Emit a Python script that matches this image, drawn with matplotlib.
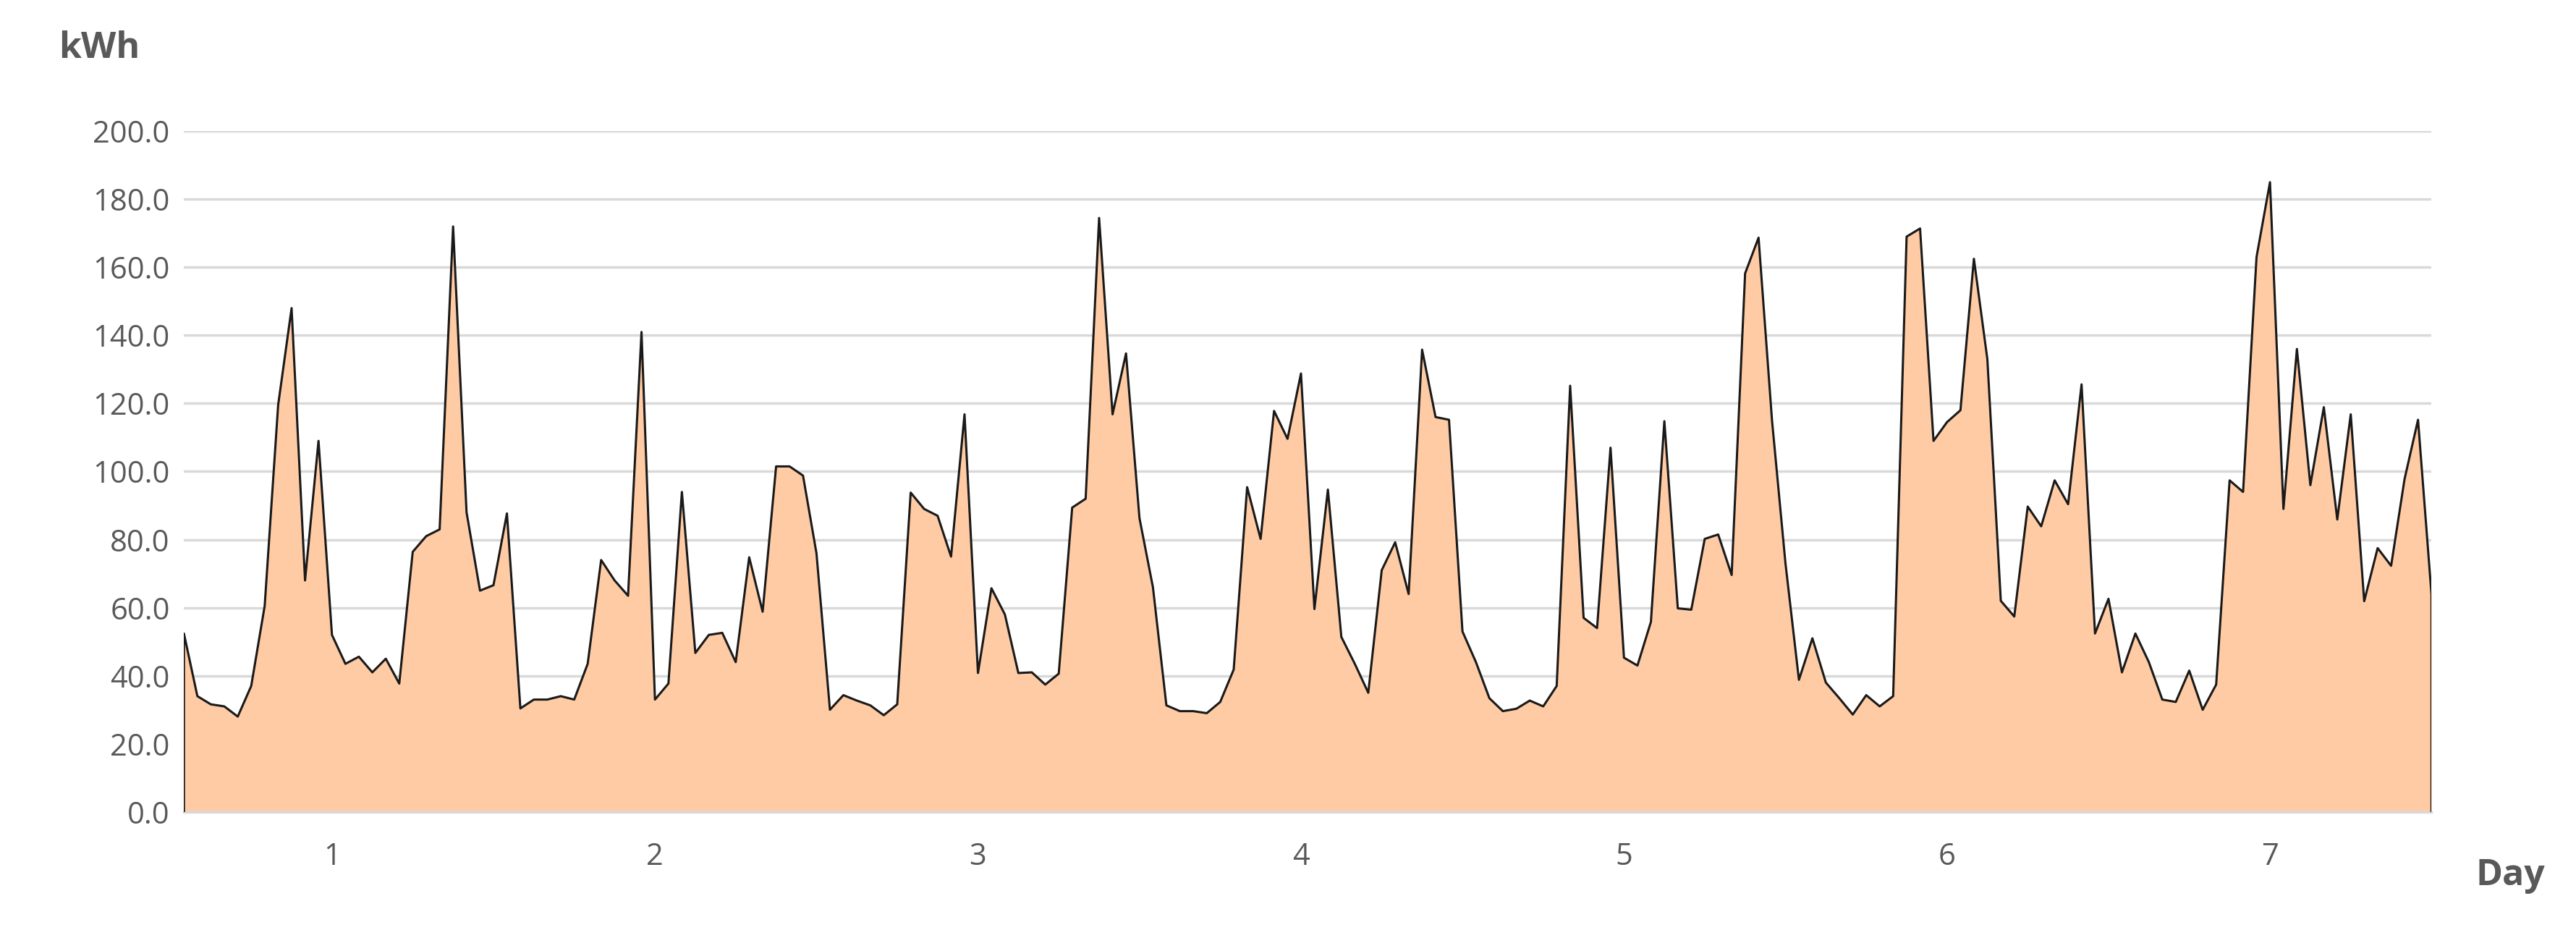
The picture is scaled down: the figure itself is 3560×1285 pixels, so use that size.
import matplotlib
matplotlib.use("Agg")
import matplotlib.pyplot as plt
import numpy as np

day_labels = ["1", "2", "3", "4", "5", "6", "7"]
energy_kwh = [
    52.4, 34, 31.6, 31, 28, 37, 60.5, 119.5, 148, 68, 109, 52, 43.5, 45.6, 41, 45, 37.7, 76.4, 81, 83, 172, 88, 65, 66.6,
    87.7, 30.4, 33, 33, 34, 33, 43.5, 74, 68, 63.5, 141, 33, 37.7, 94, 46.7, 52, 52.6, 44, 74.8, 58.8, 101.5, 101.5, 98.8, 76,
    30, 34.3, 32.7, 31.3, 28.4, 31.6, 93.8, 89, 87, 75, 116.8, 40.8, 65.7, 58, 40.8, 41, 37.4, 40.6, 89.4, 92, 174.5, 116.8, 134.7, 86.3,
    66, 31.3, 29.6, 29.6, 29, 32.3, 41.8, 95.4, 80.2, 117.8, 109.6, 128.8, 59.6, 94.7, 51.4, 43.5, 35, 71, 79.2, 64, 135.8, 116, 115.2, 53,
    44, 33.4, 29.6, 30.3, 32.7, 31, 37, 125.2, 57, 54, 107, 45.3, 43, 55.8, 114.8, 59.8, 59.4, 80.2, 81.5, 69.6, 158.2, 168.7, 115, 73,
    38.8, 51, 38, 33.4, 28.6, 34.3, 31, 34, 169, 171.4, 109, 114.5, 118, 162.5, 133, 62, 57.4, 89.7, 83.9, 97.4, 90.4, 125.6, 52.4, 62.6,
    41, 52.4, 44, 33, 32.3, 41.5, 30, 37.4, 97.4, 94, 163, 185, 89, 136, 96, 118.9, 85.9, 116.8, 61.9, 77.5, 72.3, 97.8, 115.2, 63.9,
]
y_ticks = [0, 20, 40, 60, 80, 100, 120, 140, 160, 180, 200]

plt.rcParams['font.family'] = ['Open Sans', 'DejaVu Sans']
fig = plt.figure(figsize=(35.6, 12.85), dpi=100)
ax = fig.add_axes([0.0714, 0.127, 0.8725, 0.732])
x = np.arange(len(energy_kwh))
ax.fill_between(x, 0, energy_kwh, color='#ffcba4', linewidth=0, zorder=2)
ax.plot(np.concatenate([[0], x, [x[-1]]]), np.concatenate([[0], energy_kwh, [0]]),
        color='#1a1a1a', linewidth=2.2, zorder=3)
ax.set_xlim(0, len(energy_kwh) - 1)
ax.set_ylim(0, 200)
ax.set_yticks(y_ticks)
ax.set_yticklabels([f"{v:.1f}" for v in y_ticks])
ax.set_xticks([11 + 24 * i for i in range(len(day_labels))])
ax.set_xticklabels(day_labels)
ax.tick_params(axis='both', length=0, labelsize=30, colors='#595959', pad=14)
ax.tick_params(axis='x', pad=30)
ax.yaxis.grid(True, color='#d9d9d9', linewidth=2.5, zorder=0)
ax.set_axisbelow(True)
for s in ['top', 'right', 'left']:
    ax.spines[s].set_visible(False)
ax.spines['bottom'].set_color('#d9d9d9')
ax.spines['bottom'].set_linewidth(2.5)
fig.text(0.0385, 0.948, "kWh", fontsize=36, fontweight='bold', color='#595959', ha='center', va='center')
fig.text(0.9745, 0.058, "Day", fontsize=36, fontweight='bold', color='#595959', ha='center', va='center')
fig.savefig("out.png", dpi=100, facecolor='white')
